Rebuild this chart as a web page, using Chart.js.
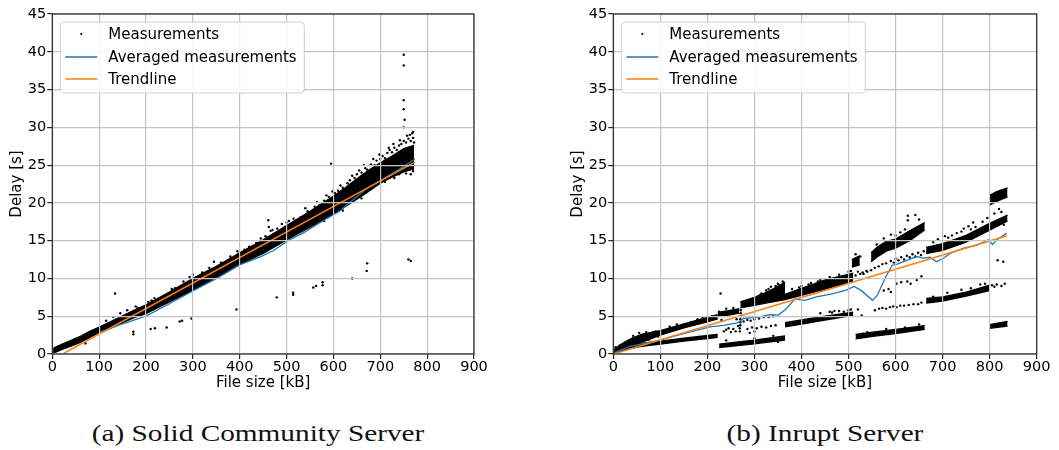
<!DOCTYPE html>
<html>
<head>
<meta charset="utf-8">
<script src="https://cdn.jsdelivr.net/npm/chart.js@4/dist/chart.umd.min.js"></script>
<style>
  html, body { margin: 0; padding: 0; background: #fff; }
  #wrap { position: relative; width: 1059px; height: 450px; overflow: hidden; }
  canvas { position: absolute; top: 0; }
  #solid { left: 0; }
  #inrupt { left: 530px; }
  .caption {
    position: absolute;
    top: 421px;
    width: 420px;
    text-align: center;
    font: 24px/24px 'Liberation Serif', serif;
    color: #111;
    transform: scaleX(1.22);
  }
</style>
</head>
<body>
<div id="wrap">
  <canvas id="solid" width="530" height="400"></canvas>
  <canvas id="inrupt" width="529" height="400"></canvas>
  <div class="caption" id="capA" style="left:48px">(a) Solid Community Server</div>
  <div class="caption" id="capB" style="left:615px">(b) Inrupt Server</div>
</div>
<script>
const legendLabels = ['Measurements', 'Averaged measurements', 'Trendline'];
const xTicksMax = 900;
const yTicksMax = 45;

// ---- (a) Solid Community Server ----
// dense part of the measurement cloud: [file size, lower edge, upper edge]
const solidCore = [
  [0, 0.1, 0.7], [10, 0.3, 1.0], [25, 0.7, 1.4], [40, 1.05, 1.8], [60, 1.55, 2.35],
  [80, 2.2, 3.0], [100, 2.85, 3.55], [120, 3.3, 4.15], [150, 4.15, 5.05], [175, 4.8, 5.8],
  [200, 5.35, 6.5], [250, 6.9, 8.2], [300, 8.45, 10.0], [350, 10.0, 11.6], [400, 11.85, 13.4],
  [450, 13.3, 15.1], [500, 15.1, 17.0], [550, 16.8, 18.9], [600, 18.5, 20.9], [625, 19.5, 22.0],
  [650, 20.5, 23.2], [675, 21.5, 24.3], [700, 22.6, 25.3], [725, 23.4, 26.2], [750, 24.1, 27.2],
  [772, 24.5, 27.6]
];
// single measurements outside the dense part
const solidPoints = [
  [71, 1.4], [134, 8.0], [173, 2.95], [173, 2.6], [210, 3.3], [219, 3.4], [244, 3.5], [272, 4.3],
  [277, 4.4], [297, 4.7], [393, 5.9], [479, 7.5], [514, 7.85], [514, 8.1], [557, 8.8], [563, 9.0],
  [577, 9.1], [577, 9.5], [640, 10.0], [671, 11.0], [672, 12.0], [760, 12.5], [765, 12.3],
  [595, 25.2], [750, 39.6], [750, 38.2], [750, 33.6], [750, 32.4], [752, 31.0], [750, 30.0],
  [461, 17.7], [462, 16.8], [466, 16.3],
  [115, 4.4], [130, 4.9], [145, 5.4], [160, 5.8], [178, 6.3], [182, 6.1], [205, 6.9], [212, 7.1],
  [218, 7.4], [229, 7.3], [255, 8.6], [262, 8.7], [280, 9.6], [293, 10.2], [300, 10.5], [320, 10.8],
  [335, 11.4], [345, 12.2], [360, 12.1], [380, 12.9], [395, 13.6], [410, 13.8], [420, 14.2],
  [435, 14.7], [445, 15.3], [455, 15.6], [470, 16.4], [480, 16.6], [490, 17.2], [500, 17.4],
  [505, 17.6], [515, 17.9], [520, 17.6], [530, 18.1], [540, 19.3], [545, 18.9], [560, 19.5],
  [565, 20.1], [570, 19.7], [580, 20.3], [585, 21.0], [590, 20.8], [598, 21.5], [603, 21.3],
  [610, 21.6], [615, 22.3], [620, 22.0], [630, 22.6], [635, 23.0], [640, 23.6], [645, 23.3],
  [650, 23.8], [655, 24.3], [660, 24.0], [665, 25.0], [668, 24.6], [672, 24.4], [680, 25.1],
  [685, 25.8], [688, 25.0], [692, 25.6], [698, 26.4], [700, 25.8], [705, 26.2], [710, 25.9],
  [715, 26.6], [718, 27.3], [720, 27.0], [725, 26.7], [728, 27.8], [730, 27.3], [735, 27.0],
  [740, 27.6], [742, 28.3], [745, 27.8], [750, 28.2], [755, 28.0], [757, 28.9], [760, 28.5],
  [763, 29.0], [765, 28.2], [768, 29.2], [770, 28.6], [772, 28.0], [770, 29.4],
  [620, 19.0], [690, 22.3], [740, 23.8], [755, 23.9], [765, 23.8], [770, 24.2], [748, 24.5],
  [730, 23.3], [710, 22.8], [660, 20.6], [580, 17.6]
];
const solidAverage = [
  [100, 2.85], [144, 3.85], [187, 4.75], [201, 5.05], [244, 6.45], [293, 8.1], [350, 10.0],
  [400, 11.8], [444, 12.85], [472, 13.7], [506, 15.1], [535, 16.0], [577, 17.6], [613, 18.9],
  [628, 19.7], [671, 21.9], [699, 22.9], [742, 24.5], [774, 25.8]
];
const solidTrend = [[22, 0], [774, 25.4]];

// ---- (b) Inrupt Server ----
const inruptBands = [
  [[0, 0, 0.6], [20, 0.45, 1.4], [40, 0.95, 2.1], [60, 1.55, 2.6], [100, 2.5, 3.1], [150, 3.45, 4.0], [200, 4.25, 4.85], [222, 4.65, 5.2]],
  [[35, 0.7, 1.1], [60, 1.0, 1.4], [100, 1.3, 1.7], [150, 1.7, 2.1], [200, 2.05, 2.45], [222, 2.2, 2.6]],
  [[222, 4.95, 5.5], [245, 5.15, 5.75], [268, 5.4, 6.0]],
  [[270, 6.1, 6.9], [300, 6.45, 7.5], [330, 6.8, 8.3], [365, 7.2, 9.5]],
  [[365, 7.2, 7.9], [400, 7.75, 8.7], [450, 8.6, 9.8], [510, 9.6, 10.7]],
  [[507, 11.5, 12.5], [524, 11.8, 13.0]],
  [[548, 12.2, 13.4], [560, 12.8, 14.1], [580, 13.6, 14.9], [600, 14.0, 15.2], [630, 15.0, 16.3], [662, 16.4, 17.4]],
  [[665, 13.3, 14.1], [700, 13.7, 14.6], [750, 14.8, 15.7], [800, 16.4, 17.3], [838, 17.6, 18.4]],
  [[800, 19.7, 21.0], [815, 20.2, 21.5], [838, 20.8, 22.0]],
  [[365, 3.6, 4.15], [400, 3.95, 4.5], [450, 4.5, 5.0], [510, 5.1, 5.55]],
  [[665, 6.75, 7.35], [700, 7.0, 7.55], [750, 7.65, 8.2], [800, 8.4, 9.1]],
  [[515, 2.0, 2.6], [560, 2.4, 2.95], [600, 2.7, 3.25], [662, 3.25, 3.75]],
  [[225, 0.85, 1.3], [270, 1.15, 1.65], [300, 1.35, 1.85], [365, 1.85, 2.4]],
  [[800, 3.4, 3.9], [838, 3.7, 4.3]]
];
const inruptPoints = [
  [5, 0.9], [10, 0.3], [15, 1.2], [18, 0.5], [22, 0.9], [25, 1.5], [28, 0.6], [30, 1.1], [33, 1.8],
  [38, 1.4], [42, 2.4], [45, 0.9], [48, 1.8], [52, 2.3], [55, 2.8], [58, 1.3], [65, 2.6], [70, 2.9],
  [75, 1.9], [78, 2.4], [85, 2.9], [90, 3.0], [95, 2.3],
  [120, 3.6], [135, 3.9], [154, 3.8], [165, 4.2], [178, 4.45], [179, 4.6], [190, 4.8], [210, 5.0], [228, 8.0],
  [230, 4.5], [235, 3.0], [240, 3.2], [245, 3.4], [250, 2.9], [255, 3.3], [260, 3.0], [262, 4.6], [265, 3.7],
  [269, 3.0], [269, 3.4], [270, 3.8], [270, 4.2], [270, 4.6], [271, 5.0], [271, 5.4], [271, 5.8],
  [312, 7.8], [315, 8.0], [318, 7.6], [325, 8.4], [330, 8.6], [335, 8.9], [340, 8.5], [345, 9.0],
  [350, 9.3], [355, 9.1], [360, 9.6], [363, 9.4],
  [277, 4.3], [285, 4.5], [292, 4.4], [300, 4.6], [285, 3.3], [295, 3.5], [305, 3.4], [315, 3.6],
  [325, 3.5], [335, 3.7], [345, 3.8], [310, 4.7], [320, 4.9], [330, 4.9], [340, 5.0], [290, 2.8], [300, 3.0],
  [440, 5.4], [460, 5.6], [465, 5.5], [470, 5.7], [480, 5.7], [490, 5.6], [500, 5.8], [505, 5.9], [520, 5.9], [528, 5.1],
  [515, 10.4], [520, 10.9], [525, 10.6], [530, 10.8], [538, 11.0], [525, 12.9], [515, 13.2], [505, 11.0],
  [532, 10.6], [540, 10.9], [548, 11.1], [556, 11.4], [564, 11.6], [572, 11.9], [580, 12.0],
  [590, 12.3], [596, 12.1], [600, 12.6], [606, 12.4], [612, 12.8], [618, 12.5], [624, 13.0], [630, 12.8],
  [636, 13.2], [642, 12.9], [648, 13.4], [654, 13.1], [660, 13.6],
  [556, 5.8], [565, 6.0], [572, 6.1], [580, 6.0], [588, 6.2], [595, 6.3], [602, 6.2], [610, 6.4],
  [618, 6.4], [628, 6.5], [638, 6.6], [648, 6.6], [655, 6.8],
  [575, 8.4], [585, 8.6], [590, 8.2], [602, 9.3], [612, 9.5], [625, 9.6], [632, 9.3], [645, 9.8], [655, 10.3],
  [560, 14.5], [575, 15.3], [590, 15.8], [610, 16.1], [626, 17.7], [626, 18.3], [642, 18.4], [650, 17.8],
  [600, 15.7], [585, 14.9], [620, 16.5],
  [680, 14.8], [690, 15.2], [705, 15.6], [720, 15.7], [730, 16.0], [745, 16.6], [755, 16.9], [765, 17.4],
  [770, 16.8], [785, 17.5], [795, 18.0], [712, 15.4], [740, 16.2], [760, 16.5],
  [810, 18.6], [825, 18.8], [830, 17.1],
  [680, 7.6], [710, 8.1], [740, 8.5], [760, 8.7], [780, 9.2], [790, 9.3], [805, 9.1], [815, 9.2],
  [825, 9.0], [832, 9.3], [810, 8.9],
  [540, 2.9], [580, 3.3], [620, 3.5], [650, 3.9], [530, 2.7],
  [240, 1.8], [300, 2.1], [340, 2.4], [350, 1.6],
  [817, 12.4], [829, 12.2], [820, 19.2], [805, 20.9],
  [225, 5.6], [240, 6.0], [255, 6.1],
  [380, 8.6], [400, 9.0], [420, 9.4], [440, 9.8], [460, 10.2], [480, 10.5], [500, 10.9], [395, 8.8],
  [415, 9.2], [435, 9.6]
];
const inruptAverage = [
  [3, 0.2], [35, 1.0], [99, 1.85], [149, 2.7], [206, 3.6], [234, 3.8], [262, 4.1], [269, 4.3],
  [276, 4.7], [305, 4.85], [333, 5.2], [351, 5.15], [368, 6.0], [386, 7.3], [407, 7.1], [432, 7.55],
  [467, 8.0], [495, 8.45], [512, 8.95], [526, 8.45], [551, 7.1], [561, 7.75], [579, 10.2], [593, 11.75],
  [602, 11.85], [624, 12.4], [645, 12.9], [659, 12.7], [673, 12.8], [687, 12.2], [702, 12.7], [716, 13.3],
  [745, 14.0], [773, 14.4], [797, 15.1], [806, 14.5], [815, 15.1], [836, 16.0]
];
const inruptTrend = [[0, 0], [837, 15.65]];

Chart.defaults.font.family = "'DejaVu Sans', sans-serif";
Chart.defaults.color = '#000';

const toXY = arr => arr.map(p => ({ x: p[0], y: p[1] }));

// matplotlib-like legend box in the upper left of the plot
const boxLegend = {
  id: 'boxLegend',
  afterDraw(chart) {
    const { ctx, chartArea } = chart;
    const x = chartArea.left + 8, y = chartArea.top + 8, w = 244, h = 71;
    ctx.save();
    ctx.beginPath();
    ctx.roundRect(x, y, w, h, 4);
    ctx.fillStyle = 'rgba(255,255,255,0.85)';
    ctx.fill();
    ctx.strokeStyle = '#d0d0d0';
    ctx.lineWidth = 1;
    ctx.stroke();
    ctx.font = "15px 'DejaVu Sans'";
    ctx.textBaseline = 'middle';
    ctx.fillStyle = '#000';
    const rows = [y + 12, y + 35, y + 57];
    // measurements marker
    ctx.beginPath();
    ctx.arc(x + 21, rows[0], 1.1, 0, Math.PI * 2);
    ctx.fill();
    const lineColors = [null, '#1f77b4', '#ff7f0e'];
    [1, 2].forEach(i => {
      ctx.beginPath();
      ctx.moveTo(x + 5, rows[i]);
      ctx.lineTo(x + 37, rows[i]);
      ctx.strokeStyle = lineColors[i];
      ctx.lineWidth = 1.5;
      ctx.stroke();
    });
    legendLabels.forEach((t, i) => {
      ctx.fillStyle = '#000';
      ctx.fillText(t, x + 48, rows[i] + 1);
    });
    ctx.restore();
  }
};

// axes frame on all four sides
const frame = {
  id: 'frame',
  afterDraw(chart) {
    const { ctx, chartArea: a } = chart;
    ctx.save();
    ctx.strokeStyle = '#262626';
    ctx.lineWidth = 1.2;
    ctx.strokeRect(a.left, a.top, a.right - a.left, a.bottom - a.top);
    ctx.restore();
  }
};

function makeChart(canvasId, bands, points, average, trend, padLeft, padRight) {
  const datasets = [
    { label: legendLabels[2], data: toXY(trend), borderColor: '#ff7f0e', borderWidth: 1.5, pointRadius: 0, order: 0 },
    { label: legendLabels[1], data: toXY(average), borderColor: '#1f77b4', borderWidth: 1.3, pointRadius: 0, order: 1 },
    { label: legendLabels[0], data: toXY(points), showLine: false, pointRadius: 1.2, pointBorderWidth: 0,
      pointBackgroundColor: '#000', order: 2 }
  ];
  // dense clouds drawn as filled bands between their lower and upper edge
  bands.forEach(band => {
    datasets.push({ data: band.map(p => ({ x: p[0], y: p[1] })), borderColor: '#000', borderWidth: 1.3,
      pointRadius: 0, fill: false, order: 3 });
    datasets.push({ data: band.map(p => ({ x: p[0], y: p[2] })), borderColor: '#000', borderWidth: 1.3,
      pointRadius: 0, fill: '-1', backgroundColor: '#000', order: 3 });
  });

  const gridStyle = { color: '#c4c4c4', lineWidth: 1.2, z: 1, tickLength: 5, tickColor: '#262626', tickWidth: 1.2 };

  return new Chart(document.getElementById(canvasId), {
    type: 'line',
    data: { datasets },
    options: {
      responsive: false,
      animation: false,
      layout: { padding: { left: padLeft, right: padRight, top: 14, bottom: 0 } },
      plugins: { legend: { display: false }, tooltip: { enabled: false } },
      scales: {
        x: {
          type: 'linear', min: 0, max: xTicksMax,
          ticks: { stepSize: 100, padding: 0, font: { size: 14.5 }, color: '#000' },
          grid: gridStyle,
          border: { display: false },
          title: { display: true, text: 'File size [kB]', font: { size: 15 }, color: '#000', padding: { top: 0, bottom: 8 } },
          afterFit: s => { s.height = 46; s.paddingLeft = 0; s.paddingRight = 0; }
        },
        y: {
          min: 0, max: yTicksMax,
          ticks: { stepSize: 5, padding: 1, font: { size: 14.5 }, color: '#000' },
          grid: gridStyle,
          border: { display: false },
          title: { display: true, text: 'Delay [s]', font: { size: 15 }, color: '#000', padding: { top: 8, bottom: 0 } },
          afterFit: s => { s.width = 52.3; s.paddingTop = 0; s.paddingBottom = 0; }
        }
      }
    },
    plugins: [frame, boxLegend]
  });
}

makeChart('solid', [solidCore], solidPoints, solidAverage, solidTrend, 0, 56);
makeChart('inrupt', inruptBands, inruptPoints, inruptAverage, inruptTrend, 31, 22.3);
</script>
</body>
</html>
